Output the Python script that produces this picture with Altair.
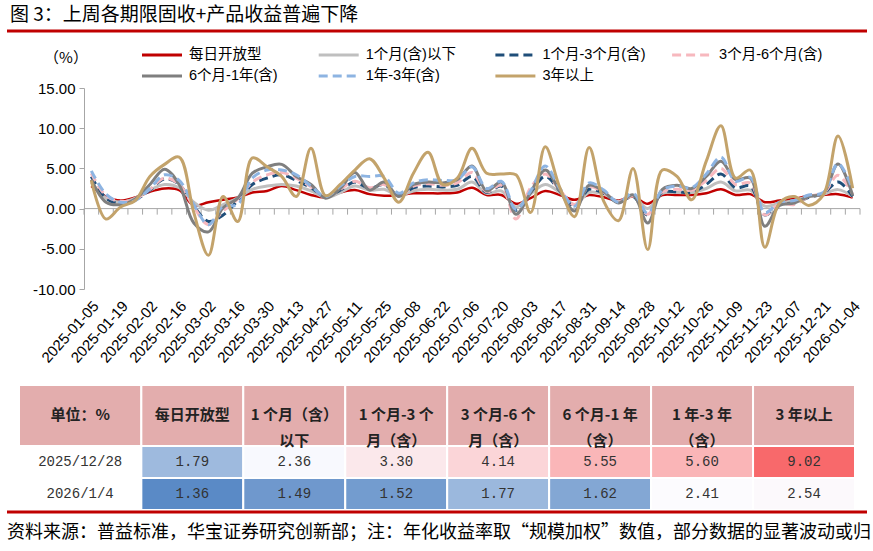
import json
import altair as alt
import pandas as pd

# ---------------- data ----------------
weeks = [d.strftime("%Y-%m-%d") for d in pd.date_range("2025-01-05", periods=53, freq="7D")]

series_names = ["每日开放型", "1个月(含)以下", "1个月-3个月(含)", "3个月-6个月(含)",
                "6个月-1年(含)", "1年-3年(含)", "3年以上"]

daily_open = [2.8, 1.5, 1.0, 1.4, 2.1, 2.5, 2.3, 0.4, 0.8, 1.1,
              1.4, 2.0, 2.2, 2.8, 2.3, 1.7, 1.4, 2.0, 2.3, 1.8,
              1.6, 1.7, 1.9, 1.9, 1.9, 2.0, 2.6, 1.7, 1.7, 0.6,
              1.3, 2.2, 1.7, 1.1, 1.7, 1.4, 1.0, 1.5, 0.6, 1.7,
              1.7, 1.7, 1.9, 2.4, 1.7, 1.8, 0.8, 1.0, 1.2, 1.6,
              1.7, 1.79, 1.36]
m1_below = [3.3, 1.3, 0.8, 1.3, 2.3, 3.0, 2.6, 0.8, -0.2, 0.5,
            1.3, 2.4, 2.8, 3.0, 2.8, 2.2, 1.4, 2.0, 2.8, 2.3,
            2.4, 1.6, 2.2, 2.4, 2.3, 2.4, 3.3, 1.9, 2.2, 0.2,
            1.8, 3.0, 2.0, 0.5, 2.0, 1.8, 0.9, 1.6, 0.0, 1.9,
            2.0, 2.0, 2.5, 3.3, 2.2, 2.3, 0.3, 0.7, 1.0, 1.5,
            1.8, 2.36, 1.49]
m1_m3 = [4.0, 1.3, 0.6, 1.1, 2.3, 3.7, 3.0, 0.3, -1.6, -0.8,
         1.0, 3.0, 3.8, 4.2, 3.5, 2.6, 1.5, 2.3, 3.3, 2.5,
         3.0, 1.6, 2.6, 2.8, 2.7, 2.9, 4.0, 2.0, 2.8, -0.2,
         2.0, 4.0, 2.2, 0.3, 2.4, 1.9, 0.8, 1.5, -0.8, 2.0,
         2.1, 2.0, 3.0, 4.3, 2.6, 2.8, -0.8, 0.5, 0.7, 1.4,
         1.9, 3.30, 1.52]
m3_m6 = [4.4, 1.6, 0.9, 1.2, 2.4, 3.8, 3.0, 0.2, -2.0, -0.3,
         1.2, 3.3, 4.2, 4.5, 3.8, 2.7, 1.4, 2.4, 3.4, 2.6,
         3.0, 1.5, 2.8, 3.1, 2.9, 3.2, 4.5, 2.1, 2.9, -1.3,
         2.6, 4.3, 2.3, 0.5, 2.7, 2.0, 0.8, 1.6, -0.7, 2.1,
         2.4, 2.3, 3.5, 5.0, 3.0, 3.2, -0.8, 0.6, 0.5, 1.5,
         1.9, 4.14, 1.77]
m6_y1 = [3.6, 0.8, 0.5, 1.2, 3.0, 4.9, 3.0, -1.8, -2.9, 0.1,
         1.3, 4.4, 5.2, 5.5, 4.0, 3.0, 1.3, 2.5, 4.5, 2.3,
         3.3, 1.5, 3.0, 3.3, 3.2, 3.6, 5.3, 2.2, 3.3, -0.7,
         2.0, 4.8, 2.2, -0.3, 2.9, 2.1, 0.7, 1.7, -1.8, 2.4,
         2.9, 2.5, 4.0, 5.9, 3.6, 3.8, -2.2, 0.4, 0.7, 1.5,
         1.9, 5.55, 1.62]
y1_y3 = [4.7, 1.8, 0.8, 1.0, 2.5, 4.2, 3.5, 0.5, -2.0, 0.3,
         0.5, 3.8, 4.8, 4.8, 4.2, 2.8, 1.5, 2.8, 4.0, 4.0,
         4.0, 1.9, 3.2, 3.6, 3.5, 3.6, 5.2, 2.5, 3.4, -0.1,
         2.2, 5.3, 2.5, 0.3, 3.2, 2.3, 0.8, 1.9, -0.6, 2.3,
         2.8, 2.6, 4.3, 6.4, 3.4, 3.9, -0.5, 0.8, 1.0, 1.7,
         2.0, 5.60, 2.41]
y3_above = [3.5, -1.3, 0.2, 1.0, 4.0, 5.5, 6.4, -0.5, -5.8, 1.5,
            -1.6, 6.3, 5.2, 4.0, 1.5, 7.5, 1.6, 3.0, 4.8, 6.2,
            3.8, 0.8, 4.4, 7.0, 3.0, 3.8, 7.5, 4.4, 4.3, 4.2,
            -0.5, 7.7, 2.6, -1.0, 7.6, 0.9, -1.5, 5.0, -5.1, 4.8,
            4.0, 1.1, 5.9, 10.3, 3.8, 4.8, -4.8, 0.7, 1.5, 0.4,
            1.7, 9.02, 2.54]
series_values = [daily_open, m1_below, m1_m3, m3_m6, m6_y1, y1_y3, y3_above]

# table
table_headers = ["单位：%", "每日开放型", "1 个月（含）\n以下", "1 个月-3 个\n月（含）",
                 "3 个月-6 个\n月（含）", "6 个月-1 年\n（含）", "1 年-3 年\n（含）", "3 年以上"]
table_dates = ["2025/12/28", "2026/1/4"]
row_20251228 = [1.79, 2.36, 3.30, 4.14, 5.55, 5.60, 9.02]
row_20260104 = [1.36, 1.49, 1.52, 1.77, 1.62, 2.41, 2.54]

title_text = "图 3：上周各期限固收+产品收益普遍下降"
footer_text = "资料来源：普益标准，华宝证券研究创新部；注：年化收益率取“规模加权”数值，部分数据的显著波动或归"

# ---------------- styles / layout ----------------
colors = ["#C00000", "#BFBFBF", "#1F4E79", "#F7B8BE", "#7F7F7F", "#8DB4E2", "#C3A36B"]
dashes = [None, None, [9, 5], [9, 5], None, [9, 5], None]
widths = [2.5, 3, 3, 3, 3, 3, 3]
FONT_LAT = "Liberation Sans, Noto Sans CJK SC, sans-serif"
FONT_CJK = "Noto Sans CJK SC, sans-serif"
FONT_MONO = "Liberation Mono, Noto Sans CJK SC, monospace"
AXIS_GRAY = "#A6A6A6"

ORIGIN_X = 82          # canvas x of the plot origin (shared by both panels)
PLOT_W, PLOT_H = 776, 201
TABLE_L, TABLE_R = 17, 853
TABLE_H = 125

rows = []
for name, vals in zip(series_names, series_values):
    for i, v in enumerate(vals):
        rows.append({"series": name, "i": i, "v": v})
line_df = pd.DataFrame(rows)
one = pd.DataFrame({"a": [0]})

xscale = alt.Scale(domain=[-0.5, 52.5], nice=False, zero=False)
yscale = alt.Scale(domain=[-10, 15], nice=False, zero=False)

x_axis = alt.Axis(values=list(range(0, 53, 2)), labelExpr=json.dumps(weeks) + "[datum.value]",
                  labelAngle=-48, labelAlign="right", labelBaseline="middle",
                  labelOverlap=False, labelFlush=False, labelBound=False,
                  domain=False, ticks=False, grid=False,
                  title=None, labelFont=FONT_LAT, labelFontSize=15, labelColor="#000",
                  labelPadding=14, labelOffset=4)
y_axis = alt.Axis(values=[-10, -5, 0, 5, 10, 15],
                  labelExpr="replace(format(datum.value, '.2f'), '\u2212', '-')",
                  grid=False, title=None, domainColor=AXIS_GRAY, tickColor=AXIS_GRAY,
                  tickSize=5, labelFont=FONT_LAT, labelFontSize=15, labelColor="#000",
                  labelPadding=4, labelOverlap=False)

X = alt.X("i:Q", scale=xscale, axis=x_axis)
Y = alt.Y("v:Q", scale=yscale, axis=y_axis)

zero_df = pd.DataFrame({"i": [-0.5], "i2": [52.5], "v": [0.0]})
zero_line = alt.Chart(zero_df).mark_rule(color=AXIS_GRAY, strokeWidth=1).encode(
    x=X, x2="i2:Q", y=Y)
tick_df = pd.DataFrame({"i": [k - 0.5 for k in range(54)], "v": [0.0] * 54, "v2": [-0.75] * 54})
ticks = alt.Chart(tick_df).mark_rule(color=AXIS_GRAY, strokeWidth=1).encode(
    x=X, y=Y, y2="v2:Q")

line_layers = []
for name, c, d, w in zip(series_names, colors, dashes, widths):
    mk = dict(interpolate="catmull-rom", strokeWidth=w, color=c)
    if d:
        mk["strokeDash"] = d
    line_layers.append(alt.Chart(line_df[line_df["series"] == name]).mark_line(**mk).encode(x=X, y=Y))

# decorations (pixel positions relative to the plot origin)
title_mark = alt.Chart(one).mark_text(align="left", baseline="middle", fontSize=19,
                                      font=FONT_CJK, color="#000").encode(
    x=alt.value(8 - ORIGIN_X), y=alt.value(-73), text=alt.value(title_text))
title_rule = alt.Chart(one).mark_rule(color="#C00000", strokeWidth=3).encode(
    x=alt.value(5 - ORIGIN_X), x2=alt.value(865 - ORIGIN_X), y=alt.value(-57))
pct_mark = alt.Chart(one).mark_text(align="center", baseline="middle", fontSize=15,
                                    font=FONT_CJK, color="#000").encode(
    x=alt.value(-18), y=alt.value(-30), text=alt.value("（%）"))

legend_layers = []
for k, (name, c, d, w) in enumerate(zip(series_names, colors, dashes, widths)):
    col, row = k % 4, k // 4
    x0 = 140 - ORIGIN_X + 176.7 * col
    y0 = -33 + 21 * row
    mk = dict(color=c, strokeWidth=3)
    if d:
        mk["strokeDash"] = d
    legend_layers.append(alt.Chart(one).mark_rule(**mk).encode(
        x=alt.value(x0), x2=alt.value(x0 + 40), y=alt.value(y0)))
    legend_layers.append(alt.Chart(one).mark_text(align="left", baseline="middle", fontSize=14.5,
                                                  font=FONT_LAT, color="#000").encode(
        x=alt.value(x0 + 47), y=alt.value(y0), text=alt.value(name)))

top = alt.layer(zero_line, ticks, *line_layers, title_mark, title_rule, pct_mark,
                *legend_layers).properties(width=PLOT_W, height=PLOT_H)

# ---------------- table ----------------
col_w = [1.2] + [1.0] * 7
col_edges = [0.0]
for w_ in col_w:
    col_edges.append(col_edges[-1] + w_)
row_h = [1.9, 1.0, 1.0]
row_edges = [0.0]
for h_ in row_h:
    row_edges.append(row_edges[-1] + h_)

px_per_unit = (TABLE_R - TABLE_L) / col_edges[-1]
table_w = TABLE_R - ORIGIN_X
dom_left = (ORIGIN_X - TABLE_L) / px_per_unit   # table starts left of the panel origin

hdr = pd.DataFrame([{"x0": col_edges[c], "x1": col_edges[c + 1], "y0": row_edges[0],
                     "y1": row_edges[1], "xc": (col_edges[c] + col_edges[c + 1]) / 2,
                     "yc": (row_edges[0] + row_edges[1]) / 2, "txt": table_headers[c]}
                    for c in range(8)])
cells = []
for r, vals in enumerate([row_20251228, row_20260104]):
    for c, v in enumerate(vals, start=1):
        cells.append({"x0": col_edges[c], "x1": col_edges[c + 1], "y0": row_edges[r + 1],
                      "y1": row_edges[r + 2], "xc": (col_edges[c] + col_edges[c + 1]) / 2,
                      "yc": (row_edges[r + 1] + row_edges[r + 2]) / 2, "val": v,
                      "txt": f"{v:.2f}"})
cells = pd.DataFrame(cells)
rlab = pd.DataFrame([{"xc": (col_edges[0] + col_edges[1]) / 2,
                      "yc": (row_edges[r + 1] + row_edges[r + 2]) / 2, "txt": t}
                     for r, t in enumerate(table_dates)])

all_vals = sorted(row_20251228 + row_20260104)
mid = (all_vals[6] + all_vals[7]) / 2
tx = alt.Scale(domain=[dom_left, col_edges[-1]], nice=False, zero=False)
ty = alt.Scale(domain=[0, row_edges[-1]], nice=False, zero=False, reverse=True)
color_scale = alt.Scale(domain=[min(all_vals), mid, max(all_vals)],
                        range=["#5A8AC6", "#FCFCFF", "#F8696B"], interpolate="rgb")

hdr_rect = alt.Chart(hdr).mark_rect(fill="#E3ADAD", stroke="white", strokeWidth=2).encode(
    x=alt.X("x0:Q", scale=tx, axis=None), x2="x1:Q",
    y=alt.Y("y0:Q", scale=ty, axis=None), y2="y1:Q")
hdr_text = alt.Chart(hdr).mark_text(fontSize=15, font=FONT_CJK, color="#222", lineBreak="\n",
                                    lineHeight=26, fontWeight="bold").encode(
    x=alt.X("xc:Q", scale=tx, axis=None), y=alt.Y("yc:Q", scale=ty, axis=None), text="txt:N")
cell_rect = alt.Chart(cells).mark_rect(stroke="white", strokeWidth=2).encode(
    x=alt.X("x0:Q", scale=tx, axis=None), x2="x1:Q",
    y=alt.Y("y0:Q", scale=ty, axis=None), y2="y1:Q",
    fill=alt.Fill("val:Q", scale=color_scale, legend=None))
cell_text = alt.Chart(cells).mark_text(fontSize=14, font=FONT_MONO, color="#333").encode(
    x=alt.X("xc:Q", scale=tx, axis=None), y=alt.Y("yc:Q", scale=ty, axis=None), text="txt:N")
rlab_text = alt.Chart(rlab).mark_text(fontSize=14, font=FONT_MONO, color="#333").encode(
    x=alt.X("xc:Q", scale=tx, axis=None), y=alt.Y("yc:Q", scale=ty, axis=None), text="txt:N")
bottom_rule = alt.Chart(one).mark_rule(color="#C00000", strokeWidth=3).encode(
    x=alt.value(5 - ORIGIN_X), x2=alt.value(865 - ORIGIN_X), y=alt.value(127))
footer = alt.Chart(one).mark_text(align="left", baseline="middle", fontSize=18,
                                  font=FONT_CJK, color="#000").encode(
    x=alt.value(5 - ORIGIN_X), y=alt.value(148), text=alt.value(footer_text))

table = alt.layer(hdr_rect, cell_rect, hdr_text, cell_text, rlab_text, bottom_rule,
                  footer).properties(width=table_w, height=TABLE_H)

chart = alt.vconcat(top, table, spacing=18).properties(
    padding={"left": 5, "top": 6, "right": 0, "bottom": 0}, background="white"
).configure_view(stroke=None).configure_axis(labelOverlap=False)

chart.save("out.html", embed_options={"renderer": "svg", "actions": False})
